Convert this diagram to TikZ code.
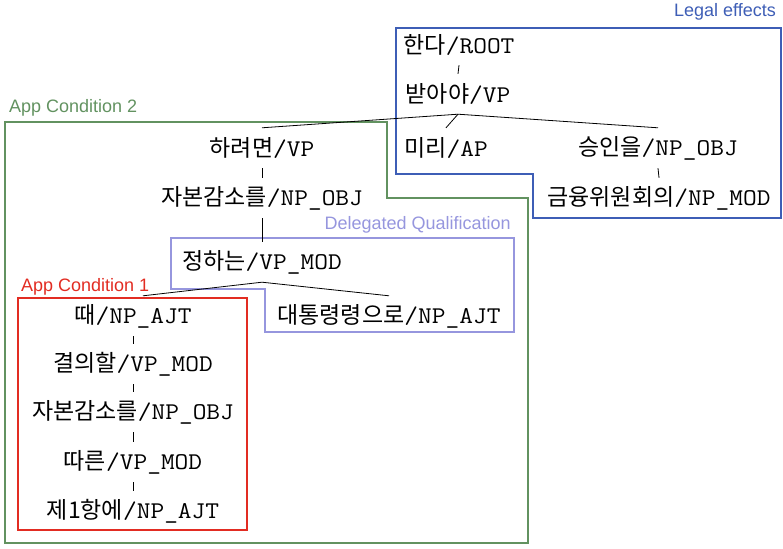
\documentclass[tikz,border=0pt]{standalone}
\usepackage{fontspec}
\setmainfont{Liberation Sans}
\setmonofont{Latin Modern Mono}[FakeStretch=1.11]
\newfontfamily\krf{Noto Sans CJK KR}
\newcommand{\kt}[2]{{\fontsize{23}{26}\selectfont\krf #1}{\fontsize{24}{26}\selectfont\ttfamily /#2}}
\definecolor{legalblue}{RGB}{62,94,182}
\definecolor{condgreen}{RGB}{98,146,96}
\definecolor{delegv}{RGB}{150,150,222}
\definecolor{condred}{RGB}{226,44,34}
\begin{document}
\begin{tikzpicture}[x=1pt,y=-1pt,
  word/.style={inner sep=0pt,minimum height=40pt},
  dep/.style={line width=0.8pt,black},
  region/.style={line width=1.8pt},
  rlabel/.style={inner sep=0pt,font=\fontsize{18}{20}\selectfont}]
\useasboundingbox (0,0) rectangle (783,548);
% regions
\draw[region,condgreen] (5,122) -- (387,122) -- (387,198) -- (528,198) -- (528,543) -- (5,543) -- cycle;
\draw[region,legalblue] (396,28) -- (781,28) -- (781,218) -- (533,218) -- (533,174) -- (396,174) -- cycle;
\draw[region,delegv] (171,238) -- (514,238) -- (514,332) -- (265,332) -- (265,289) -- (171,289) -- cycle;
\draw[region,condred] (18,298) -- (247,298) -- (247,530) -- (18,530) -- cycle;
% region labels
\node[rlabel,text=legalblue,anchor=base east] (lLegal) at (776,17) {Legal effects};
\node[rlabel,text=condgreen,anchor=base west] (lApp2) at (9,113) {App Condition 2};
\node[rlabel,text=delegv,anchor=base east] (lDeleg) at (511,229) {Delegated Qualification};
\node[rlabel,text=condred,anchor=base west] (lApp1) at (21,291) {App Condition 1};
% words
\node[word] (root) at (459,45) {\kt{한다}{ROOT}};
\node[word] (vp) at (458,94) {\kt{받아야}{VP}};
\node[word] (hr) at (262,148) {\kt{하려면}{VP}};
\node[word] (mr) at (446,148) {\kt{미리}{AP}};
\node[word] (si) at (658,148) {\kt{승인을}{NP\_OBJ}};
\node[word] (gy) at (659,198) {\kt{금융위원회의}{NP\_MOD}};
\node[word] (jb) at (262,198) {\kt{자본감소를}{NP\_OBJ}};
\node[word] (jh) at (262,262) {\kt{정하는}{VP\_MOD}};
\node[word] (dt) at (389,316) {\kt{대통령령으로}{NP\_AJT}};
\node[word] (tt) at (133,316) {\kt{때}{NP\_AJT}};
\node[word] (gu) at (133,364) {\kt{결의할}{VP\_MOD}};
\node[word] (jb2) at (133,412) {\kt{자본감소를}{NP\_OBJ}};
\node[word] (dr) at (133,462) {\kt{따른}{VP\_MOD}};
\node[word] (je) at (133,511) {\kt{제1항에}{NP\_AJT}};
% dependencies
\draw[dep] (root.south) -- (vp.north);
\draw[dep] (vp.south) -- (hr.north);
\draw[dep] (vp.south) -- (mr.north);
\draw[dep] (vp.south) -- (si.north);
\draw[dep] (si.south) -- (gy.north);
\draw[dep] (hr.south) -- (jb.north);
\draw[dep] (jb.south) -- (jh.north);
\draw[dep] (jh.south) -- ([xshift=10pt]tt.north);
\draw[dep] (jh.south) -- (dt.north);
\draw[dep] (tt.south) -- (gu.north);
\draw[dep] (gu.south) -- (jb2.north);
\draw[dep] (jb2.south) -- (dr.north);
\draw[dep] (dr.south) -- (je.north);
\end{tikzpicture}
\end{document}
